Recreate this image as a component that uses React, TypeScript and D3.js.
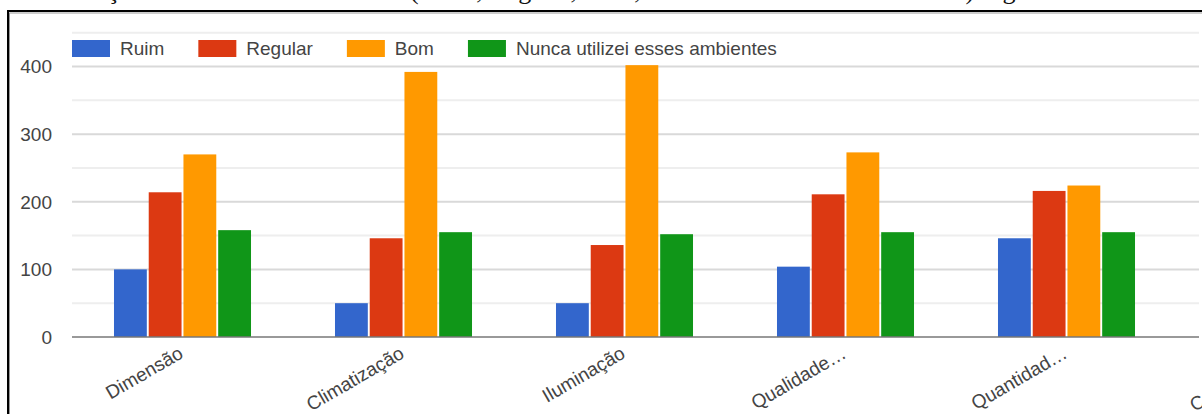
import React, { useEffect } from "react";
import * as d3 from "d3";

const categories = ["Dimensão", "Climatização", "Iluminação", "Qualidade…", "Quantidad…", "Conservaç…"];
const seriesNames = ["Ruim", "Regular", "Bom", "Nunca utilizei esses ambientes"];
const ruim = [100, 50, 50, 104, 146];
const regular = [214, 146, 136, 211, 216];
const bom = [270, 392, 402, 273, 224];
const nunca = [158, 155, 152, 155, 155];
const yTicks = [0, 100, 200, 300, 400];
const minorTicks = [50, 150, 250, 350, 450];
const colors = ["#3366cc", "#dc3912", "#ff9900", "#109618"];

const W = 1202;
const H = 414;
const FONT = "Arial, 'Liberation Sans', sans-serif";

function textWidth(s: string, size: number) {
  const c = document.createElement("canvas").getContext("2d");
  if (!c) return s.length * size * 0.5;
  c.font = `${size}px ${FONT}`;
  return c.measureText(s).width;
}

export default function App() {
  useEffect(() => {
    document.body.style.margin = "0";
    document.body.style.overflow = "hidden";
  }, []);

  const series = [ruim, regular, bom, nunca];
  const plotLeft = 72;
  const plotRight = 1199;
  const step = 221;
  const x0 = d3
    .scaleBand<string>()
    .domain(categories)
    .range([plotLeft, plotLeft + step * categories.length])
    .paddingInner(0.38)
    .paddingOuter(0.19);
  const x1 = d3
    .scaleBand<number>()
    .domain(d3.range(series.length))
    .range([0, x0.bandwidth()])
    .paddingInner(0.055);
  const y = d3.scaleLinear().domain([0, 400]).range([337, 66.5]);

  const fs = 19;
  const legendItems: { name: string; x: number; tx: number; color: string }[] = [];
  let lx = 72;
  seriesNames.forEach((n, i) => {
    legendItems.push({ name: n, x: lx, tx: lx + 48, color: colors[i] });
    lx += 48 + textWidth(n, fs) + 34;
  });

  return (
    <div style={{ position: "absolute", left: 0, top: 0, width: W, height: H, overflow: "hidden", background: "#fff" }}>
      <svg width={W} height={H} style={{ display: "block" }}>
        <defs>
          <clipPath id="clipTop">
            <rect x={0} y={0} width={W} height={9} />
          </clipPath>
        </defs>
        <rect x={0} y={0} width={W} height={H} fill="#fff" />
        {/* cropped caption line above the frame: only descenders remain visible */}
        <g clipPath="url(#clipTop)">
          <text x={40} y={-1} fontFamily="'Liberation Serif', 'DejaVu Serif', serif" fontSize={26} fill="#111">
            Avaliação dos ambientes de estudo (Ruim, Regular, Bom, Nunca utilizei esses ambientes) segundo os alunos
          </text>
        </g>
        {/* frame */}
        <line x1={9.5} x2={9.5} y1={13} y2={H} stroke="#999" strokeWidth={1} />
        <line x1={9} x2={W} y1={13} y2={13} stroke="#999" strokeWidth={1} />
        <path d={`M8,${H} V11 H${W}`} fill="none" stroke="#000" strokeWidth={2} />

        {minorTicks.map((t) => (
          <line key={"m" + t} x1={plotLeft} x2={plotRight} y1={y(t)} y2={y(t)} stroke="#eeeeee" strokeWidth={2} />
        ))}
        {yTicks.filter((t) => t !== 0).map((t) => (
          <line key={"g" + t} x1={plotLeft} x2={plotRight} y1={y(t)} y2={y(t)} stroke="#d9d9d9" strokeWidth={2} />
        ))}
        {yTicks.map((t) => (
          <text key={"y" + t} x={52} y={y(t)} dy="0.36em" textAnchor="end" fontFamily={FONT} fontSize={fs} fill="#444">
            {t}
          </text>
        ))}

        {series.map((vals, si) =>
          vals.map((v, ci) => (
            <rect
              key={`b${si}-${ci}`}
              x={(x0(categories[ci]) ?? 0) + (x1(si) ?? 0)}
              y={y(v)}
              width={x1.bandwidth()}
              height={y(0) - y(v)}
              fill={colors[si]}
            />
          ))
        )}

        <line x1={plotLeft} x2={plotRight} y1={y(0)} y2={y(0)} stroke="#777" strokeWidth={1.6} />

        {categories.map((c) => {
          const cx = (x0(c) ?? 0) + x0.bandwidth() / 2 + 2;
          const ly = 357;
          return (
            <text
              key={"x" + c}
              x={cx}
              y={ly}
              textAnchor="end"
              transform={`rotate(-30 ${cx} ${ly})`}
              fontFamily={FONT}
              fontSize={fs}
              fill="#444"
            >
              {c}
            </text>
          );
        })}

        {legendItems.map((it) => (
          <g key={"l" + it.name}>
            <rect x={it.x} y={40} width={38} height={17} fill={it.color} />
            <text x={it.tx} y={55} fontFamily={FONT} fontSize={fs} fill="#444">
              {it.name}
            </text>
          </g>
        ))}
      </svg>
    </div>
  );
}
